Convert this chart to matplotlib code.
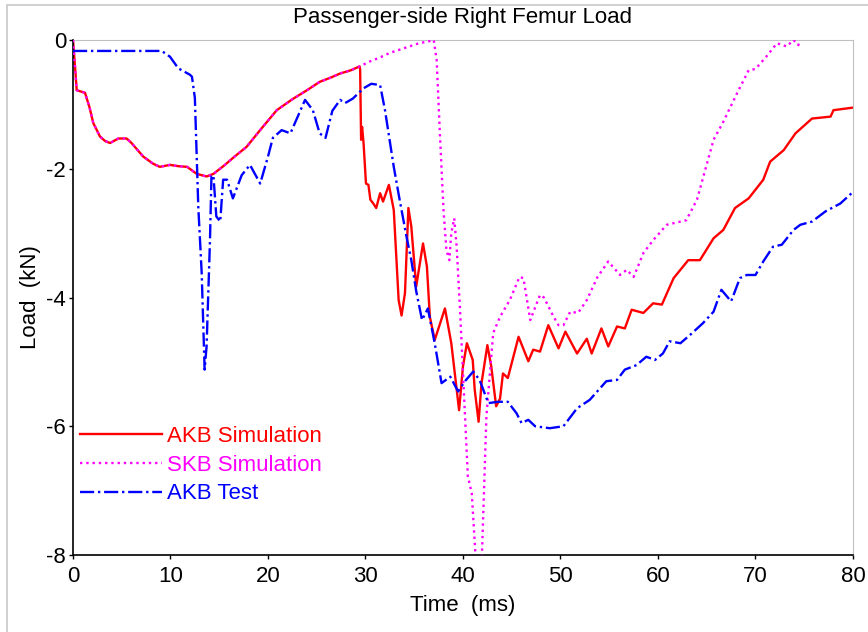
import matplotlib
matplotlib.use("Agg")
import matplotlib.pyplot as plt
from matplotlib.patches import Rectangle

plt.rcParams['font.family'] = ['Liberation Sans', 'DejaVu Sans']
plt.rcParams['axes.unicode_minus'] = False

# Shared early part of both simulations (ms, kN)
t_early = [0, 0.2, 0.38, 0.8, 1.23, 1.7, 2.08, 2.77, 3.3, 3.8, 4.65, 5.5, 6.0, 7.2, 8.2, 8.9,
           9.95, 10.8, 11.7, 12.7, 13.7, 14.4, 15.5, 16.5, 17.8, 19.3, 20.9, 22.5, 24.0, 25.3,
           26.5, 27.4, 28.5, 29.4]
load_early = [0, -0.4, -0.78, -0.8, -0.82, -1.05, -1.29, -1.50, -1.57, -1.60, -1.53, -1.53, -1.60,
              -1.81, -1.92, -1.97, -1.94, -1.96, -1.97, -2.08, -2.12, -2.08, -1.95, -1.82, -1.66,
              -1.38, -1.09, -0.92, -0.78, -0.65, -0.58, -0.52, -0.47, -0.41]

# AKB simulation after 29.4 ms
t_akb = [29.45, 29.55, 29.65, 29.8, 30.05, 30.3, 30.5, 30.8, 31.1, 31.5, 31.8, 32.4, 32.9, 33.4,
         33.7, 34.05, 34.4, 34.7, 35.2, 35.9, 36.3, 36.6, 37.1, 38.15, 38.8, 39.6, 40.0, 40.4,
         41.0, 41.2, 41.6, 41.9, 42.5, 42.9, 43.4, 43.8, 44.1, 44.6, 45.7, 46.7, 47.2, 47.9,
         48.75, 49.8, 50.5, 51.7, 52.7, 53.2, 54.2, 54.9, 55.8, 56.6, 57.3, 58.5, 59.5, 60.4,
         61.6, 63.1, 64.3, 65.7, 66.7, 67.9, 69.3, 70.8, 71.5, 72.9, 74.1, 75.8, 77.7, 78.0, 80]
load_akb = [-0.45, -1.55, -1.35, -1.6, -2.23, -2.25, -2.48, -2.54, -2.61, -2.38, -2.51, -2.25,
            -2.64, -4.04, -4.28, -3.93, -2.61, -2.90, -3.83, -3.16, -3.52, -4.30, -4.66, -4.17,
            -4.71, -5.75, -5.07, -4.71, -4.97, -5.43, -5.93, -5.33, -4.74, -5.07, -5.69, -5.57,
            -5.18, -5.25, -4.61, -4.99, -4.81, -4.84, -4.43, -4.79, -4.53, -4.87, -4.64, -4.87,
            -4.48, -4.76, -4.45, -4.48, -4.19, -4.24, -4.09, -4.11, -3.70, -3.42, -3.42, -3.08,
            -2.95, -2.61, -2.46, -2.17, -1.89, -1.71, -1.45, -1.22, -1.19, -1.09, -1.05]

# SKB simulation after 29.4 ms
t_skb = [30.5, 31.5, 32.5, 33.5, 34.5, 35.5, 36.5, 37.0, 37.3, 37.6, 38.0, 38.3, 38.6, 38.8,
         39.1, 39.35, 39.7, 40.1, 40.5, 40.9, 41.4, 41.7, 41.9, 42.4, 43.1, 43.8, 44.8, 45.8,
         46.2, 46.9, 47.9, 48.3, 49.3, 49.8, 50.3, 51.0, 51.8, 52.7, 53.8, 54.9, 56.1, 56.8,
         57.5, 58.5, 59.5, 60.9, 62.9, 64.0, 65.7, 66.7, 68.1, 69.3, 70.0, 71.1, 72.2, 73.2,
         73.9, 74.4, 74.5]
load_skb = [-0.33, -0.27, -0.2, -0.15, -0.1, -0.05, -0.02, 0.0, -0.31, -1.35, -2.64, -3.26,
            -3.42, -3.0, -2.77, -3.21, -4.2, -5.5, -6.78, -7.04, -8.3, -8.5, -8.2, -5.85, -4.55,
            -4.3, -4.04, -3.68, -3.7, -4.35, -3.96, -4.0, -4.30, -4.43, -4.43, -4.22, -4.24,
            -4.04, -3.68, -3.44, -3.65, -3.57, -3.68, -3.31, -3.11, -2.87, -2.80, -2.48, -1.55,
            -1.27, -0.83, -0.47, -0.45, -0.26, -0.05, -0.10, 0.0, -0.08, 0.0]

# AKB test
t_test = [0, 9.1, 9.95, 10.8, 12.0, 12.2, 12.5, 12.85, 13.2, 13.5, 13.7, 14.05, 14.2, 14.4, 14.7,
          15.1, 15.4, 15.8, 16.4, 17.3, 18.15, 19.2, 20.0, 20.5, 21.4, 22.3, 23.8, 24.6, 25.3,
          25.9, 26.6, 27.4, 27.9, 28.7, 29.8, 30.6, 31.5, 32.0, 32.9, 33.5, 34.2, 34.7, 35.2,
          35.8, 36.4, 37.1, 37.8, 38.7, 39.5, 40.2, 41.05, 41.7, 42.6, 43.6, 44.6, 45.5, 46.0,
          46.7, 47.4, 48.9, 50.3, 51.7, 53.0, 54.7, 55.8, 56.6, 57.8, 58.8, 59.7, 60.5, 61.2,
          62.3, 63.3, 64.6, 65.7, 66.5, 67.5, 68.4, 69.1, 70.0, 70.8, 71.8, 72.7, 73.9, 74.6,
          75.8, 77.2, 78.7, 80]
load_test = [-0.17, -0.17, -0.26, -0.44, -0.54, -0.57, -0.9, -2.59, -3.62, -5.12, -4.76, -3.11,
             -2.12, -2.10, -2.74, -2.82, -2.17, -2.17, -2.46, -2.10, -1.94, -2.23, -1.81, -1.52,
             -1.40, -1.45, -0.93, -1.09, -1.45, -1.52, -1.1, -0.93, -0.98, -0.91, -0.75, -0.68,
             -0.70, -1.09, -1.97, -2.48, -3.05, -3.42, -3.9, -4.35, -4.17, -4.71, -5.33, -5.23,
             -5.46, -5.30, -5.15, -5.28, -5.64, -5.62, -5.62, -5.80, -5.95, -5.90, -6.0, -6.03,
             -6.0, -5.72, -5.59, -5.30, -5.28, -5.12, -5.05, -4.92, -4.97, -4.87, -4.68, -4.71,
             -4.58, -4.40, -4.22, -3.88, -4.06, -3.70, -3.65, -3.65, -3.44, -3.21, -3.18, -2.95,
             -2.87, -2.82, -2.66, -2.54, -2.36]

fig = plt.figure(figsize=(8.68, 6.32), dpi=100)
ax = fig.add_axes([0.0841, 0.1218, 0.8986, 0.8149])

# light outer frame
fig.patches.append(Rectangle((7 / 868, -0.01), 1.0, 1 - 5 / 632 + 0.01, transform=fig.transFigure,
                             fill=False, edgecolor='#c8c8c8', linewidth=1.2))

ax.plot(t_early + t_akb, load_early + load_akb, color='#ff0000', linewidth=1.7,
        label='AKB Simulation', zorder=2)
ax.plot(t_early + t_skb, load_early + load_skb, color='#ff00ff', linestyle=':', linewidth=1.7,
        label='SKB Simulation', zorder=3)
ax.plot(t_test, load_test, color='#0000ff', linewidth=1.7, dashes=(6, 1.6, 1, 1.6),
        label='AKB Test', zorder=4)

ax.set_xlim(0, 80)
ax.set_ylim(-8, 0)
ax.set_xticks(range(0, 81, 10))
ax.set_yticks([-8, -6, -4, -2, 0])
ax.tick_params(labelsize=16, length=3, width=1, direction='out')
ax.tick_params(axis='x', pad=5)
ax.tick_params(axis='y', pad=2)
ax.spines['top'].set_color('#c0c0c0')
ax.spines['right'].set_color('#c0c0c0')
ax.spines['left'].set_linewidth(1.2)
ax.spines['bottom'].set_linewidth(1.2)

ax.set_title('Passenger-side Right Femur Load', fontsize=16, pad=12)
ax.set_xlabel('Time  (ms)', fontsize=16, labelpad=6)
ax.set_ylabel('Load  (kN)', fontsize=16, labelpad=4)

ax.legend(loc='upper left', bbox_to_anchor=(-0.003, 0.268), frameon=False, fontsize=16,
          labelcolor='linecolor', handlelength=3.7, handletextpad=0.25, labelspacing=0.35,
          borderaxespad=0)

plt.savefig('out.png', dpi=100)
